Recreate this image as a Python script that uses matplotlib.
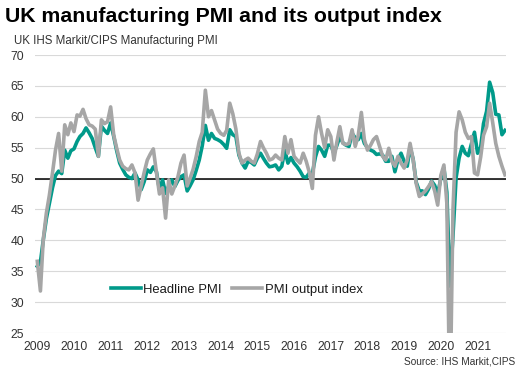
import matplotlib
matplotlib.use("Agg")
import matplotlib.pyplot as plt
import matplotlib.dates as mdates
import pandas as pd
import numpy as np

plt.rcParams['font.family'] = ['Liberation Sans', 'DejaVu Sans']

# Monthly data, Jan 2009 - Oct 2021
start_month = "2009-01-01"

headline_pmi = [
    # 2009
    35.8, 36.5, 40.0, 43.5, 46.0, 48.5, 50.5, 51.2, 50.8, 54.6, 53.3, 54.5,
    # 2010
    54.8, 56.0, 56.8, 57.3, 58.2, 57.4, 56.5, 55.0, 53.6, 58.5, 57.8, 57.3,
    # 2011
    59.0, 56.8, 54.6, 52.5, 51.5, 50.6, 50.2, 50.0, 50.9, 49.8, 48.2, 49.5,
    # 2012
    51.4, 51.0, 51.9, 51.1, 48.2, 49.8, 47.6, 48.8, 49.8, 48.7, 49.7, 50.3,
    # 2013
    50.6, 48.0, 48.8, 49.8, 51.3, 53.0, 55.3, 58.6, 56.2, 57.3, 56.5, 56.3,
    # 2014
    56.0, 55.5, 54.9, 57.9, 57.1, 56.8, 53.8, 52.5, 51.7, 52.8, 52.6, 52.2,
    # 2015
    53.3, 54.1, 53.3, 52.5, 51.9, 52.0, 52.2, 51.4, 52.0, 54.6, 52.5, 53.4,
    # 2016
    52.5, 51.9, 51.2, 50.3, 50.2, 50.9, 50.8, 53.5, 55.2, 54.6, 53.6, 55.4,
    # 2017
    55.4, 54.1, 55.3, 56.8, 55.8, 55.4, 55.2, 57.3, 56.6, 56.3, 57.3, 55.7,
    # 2018
    55.0, 54.6, 54.4, 53.9, 54.0, 53.8, 52.8, 52.8, 53.6, 51.1, 53.1, 54.1,
    # 2019
    52.8, 52.0, 55.1, 53.1, 49.4, 48.0, 48.0, 47.4, 48.3, 49.6, 48.9, 47.5,
    # 2020
    50.0, 51.7, 47.8, 32.6, 40.7, 50.1, 53.3, 55.2, 54.1, 53.7, 55.6, 57.5,
    # 2021
    54.1, 55.1, 58.9, 60.9, 65.6, 63.9, 60.4, 60.3, 57.1, 57.8,
]

output_index = [
    # 2009
    36.6, 31.8, 40.1, 44.4, 47.3, 50.9, 54.6, 57.3, 51.2, 58.7, 57.1, 59.0,
    # 2010
    57.6, 60.3, 60.1, 61.2, 59.7, 58.7, 58.5, 58.0, 53.6, 59.5, 58.9, 59.2,
    # 2011
    61.6, 57.0, 55.0, 53.0, 52.0, 51.6, 51.4, 52.2, 50.9, 46.5, 48.8, 51.0,
    # 2012
    53.0, 54.0, 54.8, 51.0, 47.5, 48.5, 43.6, 49.8, 47.5, 48.8, 50.3, 52.5,
    # 2013
    53.8, 48.8, 50.0, 51.5, 53.5, 56.0, 57.5, 64.3, 60.0, 61.0, 59.5, 58.0,
    # 2014
    57.3, 57.0, 57.8, 62.2, 60.5, 58.0, 54.1, 52.5, 53.0, 53.3, 52.8, 52.5,
    # 2015
    54.0, 56.0, 55.0, 54.1, 53.0, 53.2, 53.8, 53.3, 53.0, 56.8, 54.1, 56.3,
    # 2016
    53.6, 53.0, 52.5, 54.1, 52.8, 51.0, 48.4, 57.0, 60.0, 57.3, 55.0, 57.9,
    # 2017
    56.8, 53.0, 55.8, 58.4, 55.7, 55.5, 55.7, 57.9, 55.2, 57.0, 60.7, 56.3,
    # 2018
    54.6, 55.4, 56.3, 56.8, 55.2, 53.6, 53.0, 54.9, 52.8, 52.0, 53.6, 52.5,
    # 2019
    51.7, 53.0, 55.7, 53.0, 49.2, 47.1, 47.5, 48.0, 48.7, 49.5, 48.0, 45.7,
    # 2020
    50.5, 52.2, 46.0, 12.0, 44.9, 57.5, 60.8, 59.5, 57.5, 56.5, 56.8, 50.9,
    # 2021
    50.6, 53.5, 57.0, 58.4, 62.2, 59.0, 55.7, 53.6, 52.0, 50.6,
]

series_names = ["Headline PMI", "PMI output index"]
y_ticks = [25, 30, 35, 40, 45, 50, 55, 60, 65, 70]

dates = pd.date_range(start_month, periods=len(headline_pmi), freq="MS")

GREEN = "#009a8a"
GREY = "#a6a6a6"

fig = plt.figure(figsize=(5.2, 3.77), dpi=100)
ax = fig.add_axes([35 / 520, 1 - 333 / 377, 471 / 520, 278 / 377])

ax.plot(dates, headline_pmi, color=GREEN, lw=2.6, label=series_names[0],
        solid_joinstyle="round", zorder=3)
ax.plot(dates, output_index, color=GREY, lw=2.6, label=series_names[1],
        solid_joinstyle="round", zorder=4)
ax.axhline(50, color="black", lw=1.1, zorder=2)

ax.set_ylim(25, 70)
ax.set_yticks(y_ticks)
ax.set_xlim(pd.Timestamp("2008-12-09"), pd.Timestamp("2021-10-11"))
ax.xaxis.set_major_locator(mdates.YearLocator())
ax.xaxis.set_major_formatter(mdates.DateFormatter("%Y"))

ax.grid(axis="y", color="#d9d9d9", lw=0.8, zorder=0)
ax.set_axisbelow(True)
for s in ax.spines.values():
    s.set_visible(False)
ax.tick_params(axis="both", length=0, labelsize=8.7, colors="#333333")
ax.tick_params(axis="y", pad=8)
ax.tick_params(axis="x", pad=6)

leg = ax.legend(loc="center", bbox_to_anchor=(0.428, 0.155), ncol=2,
                frameon=False, fontsize=9.4, handlelength=2.3,
                handletextpad=0.2, columnspacing=0.8, borderpad=0.2)
for t in leg.get_texts():
    t.set_color("#1a1a1a")

fig.text(5 / 520, 1 - 17 / 377, "UK manufacturing PMI and its output index",
         fontsize=15.3, fontweight="bold", va="center", ha="left", color="black")
fig.text(14 / 520, 1 - 41 / 377, "UK IHS Markit/CIPS Manufacturing PMI",
         fontsize=8.3, va="center", ha="left", color="#333333")
fig.text(515 / 520, 1 - 361 / 377, "Source: IHS Markit,CIPS",
         fontsize=7.3, va="center", ha="right", color="#333333")

fig.savefig("out.png", dpi=100)
